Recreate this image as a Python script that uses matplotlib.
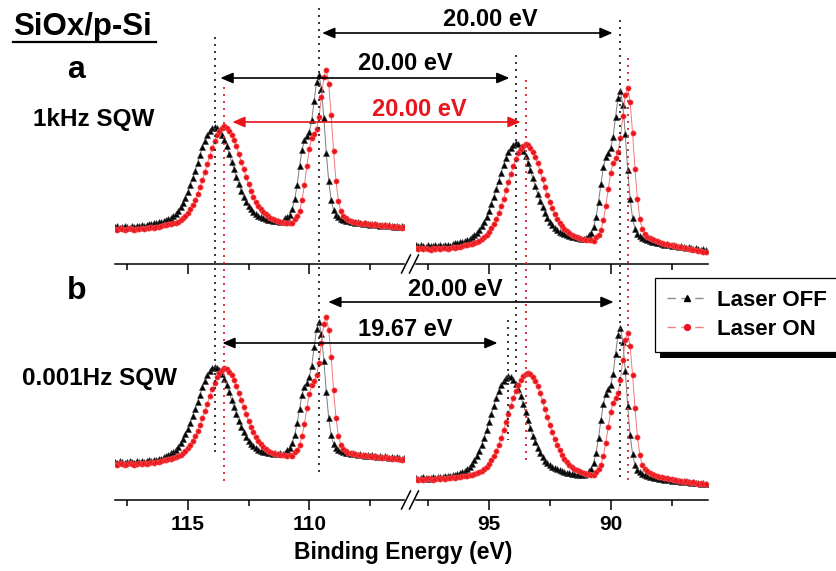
import matplotlib
matplotlib.use("Agg")
import matplotlib.pyplot as plt
import matplotlib.transforms as mtransforms
from matplotlib.lines import Line2D
from matplotlib.patches import ConnectionPatch, Rectangle
from matplotlib.ticker import MultipleLocator
import numpy as np

plt.rcParams.update({
    "font.family": "Liberation Sans",
    "font.weight": "bold",
    "axes.linewidth": 1.1,
})

# ---- data: binding energy grids (eV), 0.1 eV step ----
E_LEFT = np.round(118.0 - 0.1 * np.arange(120), 1)   # 118.0 ... 106.1
E_RIGHT = np.round(98.0 - 0.1 * np.arange(120), 1)   # 98.0 ... 86.1

# (a) 1kHz SQW, intensities (a.u.)
a_left_off = [37, 38, 36, 37, 38, 37, 36, 38, 37, 38,
              38, 39, 38, 39, 40, 40, 41, 41, 42, 42,
              43, 44, 45, 46, 48, 50, 53, 57, 61, 66,
              72, 79, 86, 93, 101, 109, 117, 123, 129, 133,
              136, 137, 136, 133, 129, 124, 118, 110, 102, 95,
              87, 80, 73, 67, 62, 58, 55, 52, 50, 48,
              47, 46, 45, 44, 44, 43, 43, 43, 42, 43,
              46, 47, 49, 55, 65, 79, 98, 114, 124, 128,
              132, 144, 163, 182, 189, 175, 146, 111, 83, 64,
              54, 49, 47, 45, 44, 43, 43, 42, 42, 41,
              42, 41, 40, 41, 40, 39, 40, 40, 39, 38,
              39, 39, 38, 39, 38, 37, 38, 37, 38, 37]
a_left_on = [35, 34, 36, 35, 34, 35, 36, 35, 34, 35,
             35, 36, 35, 36, 36, 37, 36, 37, 37, 38,
             39, 39, 40, 40, 41, 41, 42, 44, 46, 48,
             51, 55, 59, 64, 70, 77, 84, 92, 100, 108,
             116, 123, 129, 133, 136, 138, 136, 133, 129, 124,
             118, 110, 102, 95, 87, 80, 73, 67, 62, 58,
             55, 52, 50, 48, 46, 45, 44, 43, 42, 42,
             41, 41, 41, 41, 45, 48, 53, 64, 79, 98,
             115, 126, 130, 135, 147, 167, 187, 194, 180, 149,
             113, 83, 63, 53, 48, 46, 44, 43, 42, 42,
             41, 41, 40, 41, 40, 40, 39, 40, 39, 39,
             38, 39, 38, 38, 37, 38, 37, 37, 36, 37]
a_right_off = [19, 18, 19, 18, 17, 19, 18, 18, 19, 18,
               19, 18, 19, 19, 18, 20, 21, 21, 22, 22,
               23, 24, 25, 27, 29, 31, 34, 38, 42, 47,
               53, 60, 67, 75, 83, 91, 99, 106, 112, 116,
               119, 121, 120, 117, 113, 108, 101, 94, 86, 78,
               70, 63, 57, 51, 46, 42, 39, 36, 34, 32,
               31, 30, 29, 28, 27, 27, 26, 26, 25, 25,
               26, 29, 31, 37, 47, 62, 80, 97, 107, 111,
               116, 127, 147, 166, 173, 159, 130, 94, 65, 46,
               35, 30, 28, 26, 25, 24, 23, 22, 22, 21,
               21, 20, 19, 20, 19, 18, 19, 18, 17, 18,
               17, 16, 17, 16, 15, 16, 15, 14, 15, 14]
a_right_on = [16, 15, 16, 15, 16, 15, 14, 16, 15, 16,
              15, 16, 16, 15, 16, 17, 16, 17, 17, 18,
              19, 19, 20, 20, 21, 22, 23, 25, 27, 29,
              32, 36, 40, 45, 51, 58, 65, 74, 82, 90,
              98, 105, 111, 115, 118, 120, 119, 116, 112, 107,
              101, 93, 85, 77, 69, 62, 56, 50, 45, 41,
              38, 35, 33, 31, 29, 28, 27, 26, 25, 25,
              24, 24, 24, 23, 27, 29, 34, 44, 58, 75,
              91, 101, 106, 112, 126, 148, 169, 176, 162, 131,
              95, 65, 45, 35, 30, 27, 26, 25, 24, 23,
              22, 21, 20, 20, 19, 19, 18, 18, 17, 17,
              16, 16, 15, 15, 14, 14, 13, 13, 12, 12]

# (b) 0.001Hz SQW
b_left_off = [38, 37, 39, 38, 37, 38, 39, 38, 37, 39,
              38, 39, 38, 39, 40, 39, 40, 40, 41, 41,
              43, 44, 45, 47, 48, 50, 53, 57, 61, 66,
              71, 77, 84, 91, 98, 105, 113, 119, 125, 129,
              132, 133, 132, 130, 126, 121, 115, 108, 100, 93,
              86, 79, 73, 68, 63, 59, 56, 54, 52, 50,
              49, 48, 48, 47, 47, 46, 47, 46, 47, 46,
              47, 50, 52, 57, 65, 77, 91, 105, 113, 117,
              123, 134, 153, 171, 178, 166, 139, 108, 82, 65,
              56, 52, 50, 49, 48, 47, 47, 46, 47, 46,
              45, 46, 45, 44, 45, 44, 45, 44, 43, 44,
              43, 44, 43, 42, 43, 42, 43, 42, 41, 42]
b_left_on = [36, 35, 37, 36, 35, 36, 37, 36, 35, 36,
             37, 36, 37, 36, 37, 38, 37, 38, 38, 39,
             40, 40, 41, 41, 42, 43, 44, 45, 47, 49,
             52, 55, 59, 64, 69, 75, 82, 89, 96, 104,
             111, 117, 123, 127, 130, 132, 131, 128, 125, 120,
             114, 107, 100, 93, 86, 79, 73, 68, 63, 59,
             56, 53, 51, 49, 48, 47, 46, 46, 45, 45,
             45, 44, 45, 44, 48, 50, 55, 64, 76, 92,
             106, 115, 119, 125, 137, 157, 176, 183, 170, 143,
             110, 82, 64, 55, 51, 49, 47, 47, 46, 46,
             45, 45, 44, 45, 44, 44, 43, 44, 43, 43,
             42, 43, 42, 42, 41, 42, 41, 41, 40, 41]
b_right_off = [22, 21, 22, 23, 22, 21, 22, 23, 22, 23,
               23, 23, 24, 24, 24, 25, 25, 26, 27, 28,
               29, 31, 33, 36, 40, 44, 49, 55, 62, 70,
               78, 86, 94, 102, 109, 115, 119, 122, 124, 123,
               120, 116, 111, 104, 96, 88, 80, 72, 64, 58,
               52, 47, 43, 39, 37, 35, 33, 32, 31, 30,
               29, 28, 27, 27, 26, 26, 25, 26, 25, 25,
               26, 29, 31, 37, 47, 62, 80, 96, 106, 111,
               115, 126, 146, 165, 172, 158, 129, 94, 65, 46,
               35, 30, 28, 26, 25, 24, 23, 23, 22, 22,
               21, 21, 20, 21, 20, 19, 20, 19, 19, 18,
               19, 18, 18, 17, 18, 17, 17, 16, 17, 16]
b_right_on = [21, 20, 21, 20, 21, 22, 21, 20, 21, 22,
              21, 22, 21, 22, 22, 23, 22, 23, 23, 24,
              24, 24, 25, 25, 26, 27, 28, 29, 31, 33,
              36, 40, 44, 49, 55, 62, 70, 78, 86, 94,
              102, 109, 115, 120, 124, 126, 127, 126, 123, 119,
              114, 107, 99, 91, 83, 75, 68, 61, 55, 50,
              45, 41, 38, 35, 33, 31, 30, 29, 28, 27,
              26, 26, 25, 25, 28, 31, 35, 44, 57, 73,
              88, 97, 102, 107, 120, 140, 160, 167, 154, 125,
              92, 63, 45, 35, 31, 29, 27, 26, 25, 24,
              23, 23, 22, 22, 21, 21, 20, 20, 19, 19,
              18, 19, 18, 17, 18, 17, 16, 17, 16, 16]

for name, arr in [("a_left_off", a_left_off), ("a_left_on", a_left_on),
                  ("a_right_off", a_right_off), ("a_right_on", a_right_on),
                  ("b_left_off", b_left_off), ("b_left_on", b_left_on),
                  ("b_right_off", b_right_off), ("b_right_on", b_right_on)]:
    assert len(arr) == 120, (name, len(arr))

# ---- figure in pixel layout ----
W, H = 837, 571
fig = plt.figure(figsize=(W / 100, H / 100), dpi=100)
fig.patch.set_facecolor("white")


def fx(x):
    return x / W


def fy(y):
    return 1 - y / H


def make_axes(x0, x1, ybase, xlim, labels):
    ax = fig.add_axes([fx(x0), fy(ybase), (x1 - x0) / W, 240 / H])
    ax.set_xlim(*xlim)
    ax.set_ylim(0, 240)
    for s in ("left", "right", "top"):
        ax.spines[s].set_visible(False)
    ax.patch.set_alpha(0)
    ax.set_yticks([])
    ax.xaxis.set_major_locator(MultipleLocator(5))
    ax.xaxis.set_minor_locator(MultipleLocator(2.5))
    ax.tick_params(axis="x", which="major", direction="out", length=7, width=1.1,
                   labelsize=15, pad=4, labelbottom=labels)
    ax.tick_params(axis="x", which="minor", direction="out", length=4, width=1.1)
    return ax


ax_al = make_axes(115, 404, 264, (118.0, 106.1), False)
ax_ar = make_axes(416, 708, 264, (98.0, 86.0), False)
ax_bl = make_axes(115, 404, 500, (118.0, 106.1), True)
ax_br = make_axes(416, 708, 500, (98.0, 86.0), True)

off_style = dict(color="#7c7c7c", lw=0.7, marker="^", ms=4.2, mfc="black",
                 mec="#3a3a3a", mew=0.4)
on_style = dict(color="#f07a7a", lw=0.7, marker="o", ms=3.8, mfc="#e8141c",
                mec="#ff5a5a", mew=0.4)

for ax, E, off, on in [(ax_al, E_LEFT, a_left_off, a_left_on),
                       (ax_ar, E_RIGHT, a_right_off, a_right_on),
                       (ax_bl, E_LEFT, b_left_off, b_left_on),
                       (ax_br, E_RIGHT, b_right_off, b_right_on)]:
    ax.plot(E, off, **off_style)
    ax.plot(E, on, **on_style)

# ---- dotted peak markers (energy, top px, bottom px, colour) ----
BLACK_DOT = "#333333"
RED_DOT = "#d8303a"
left_marks = [(113.87, 37, 457, BLACK_DOT), (113.5, 87, 482, RED_DOT),
              (109.6, 8, 477, BLACK_DOT)]
right_marks = [(93.87, 55, 375, BLACK_DOT), (93.5, 80, 462, RED_DOT),
               (89.63, 20, 478, BLACK_DOT), (89.27, 58, 483, RED_DOT),
               (94.2, 320, 440, BLACK_DOT)]
for ax, marks in [(ax_al, left_marks), (ax_ar, right_marks)]:
    tr = mtransforms.blended_transform_factory(ax.transData, fig.transFigure)
    for e, y0, y1, c in marks:
        fig.add_artist(Line2D([e, e], [fy(y0), fy(y1)], transform=tr, color=c,
                              lw=1.4, ls=(0, (1, 2.6)), zorder=6))

# ---- separation arrows ----
ARROW = "<|-|>,head_length=0.75,head_width=0.32"


def span_arrow(axA, xa, axB, xb, y, color):
    con = ConnectionPatch(xyA=(xa, y), coordsA=axA.transData,
                          xyB=(xb, y), coordsB=axB.transData,
                          arrowstyle=ARROW, mutation_scale=10, color=color,
                          lw=1.2, shrinkA=0, shrinkB=0, zorder=7)
    fig.add_artist(con)


span_arrow(ax_al, 109.47, ax_ar, 89.92, 231, "black")
span_arrow(ax_al, 113.66, ax_ar, 94.16, 186, "black")
span_arrow(ax_al, 113.17, ax_ar, 93.70, 142, "#e8141c")
span_arrow(ax_bl, 109.22, ax_br, 89.88, 198, "black")
span_arrow(ax_bl, 113.58, ax_br, 94.65, 157, "black")

# ---- axis break marks ----
for yb in (264, 500):
    for xc in (406, 414):
        fig.add_artist(Line2D([fx(xc - 4.5), fx(xc + 4.5)], [fy(yb + 9), fy(yb - 9)],
                              color="black", lw=1.1))

# ---- texts ----
def label(x, y, s, size, color="black", ha="center"):
    fig.text(fx(x), fy(y), s, ha=ha, va="center", fontsize=size,
             fontweight="bold", color=color)


label(13, 27, "SiOx/p-Si", 22.5, ha="left")
fig.add_artist(Line2D([fx(13), fx(156)], [fy(42), fy(42)], color="black", lw=1.6))
label(76, 70, "a", 23)
label(94, 120, "1kHz SQW", 17.5)
label(77, 291, "b", 23)
label(100, 378, "0.001Hz SQW", 17.5)

label(490, 19, "20.00 eV", 17)
label(405, 63, "20.00 eV", 17)
label(419, 109, "20.00 eV", 17, color="#e8141c")
label(455, 290, "20.00 eV", 17)
label(405, 330, "19.67 eV", 17)

label(403, 553, "Binding Energy (eV)", 16.5)

# ---- legend with offset shadow ----
handles = [Line2D([], [], color="#8a8a8a", lw=1.0, ls=(0, (6, 4)), marker="^",
                  ms=4.5, mfc="black", mec="black"),
           Line2D([], [], color="#f08080", lw=1.0, ls=(0, (6, 4)), marker="o",
                  ms=4.2, mfc="#e8141c", mec="#e8141c")]
leg = fig.legend(handles, ["Laser OFF", "Laser ON"], loc="upper left",
                 bbox_to_anchor=(fx(655), fy(278)), frameon=True, fancybox=False,
                 edgecolor="black", framealpha=1, fontsize=16, handlelength=1.8,
                 handletextpad=0.45, labelspacing=0.35, borderpad=0.55,
                 borderaxespad=0)
leg.get_frame().set_linewidth(0.9)
leg.set_zorder(8)

fig.canvas.draw()
bb = leg.get_window_extent()
fig.add_artist(Rectangle((bb.x0 + 5, bb.y0 - 6), bb.width, bb.height,
                         transform=None, facecolor="black", edgecolor="none",
                         zorder=7.5))

fig.savefig("out.png", dpi=100, facecolor="white")
